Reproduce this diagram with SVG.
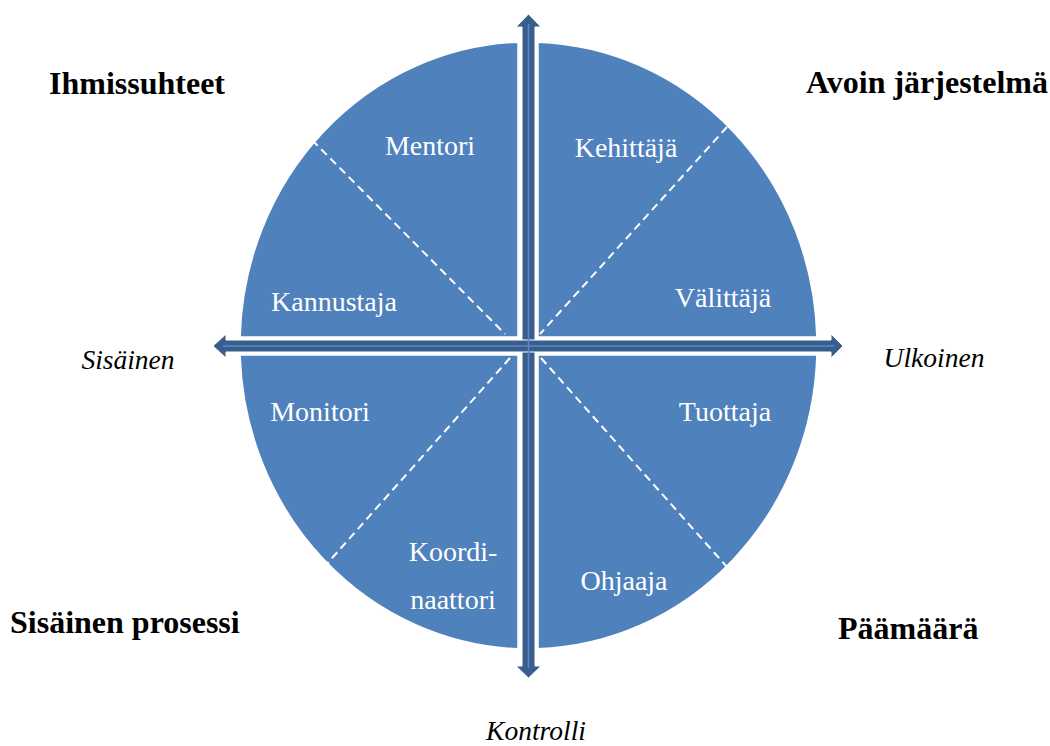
<svg xmlns="http://www.w3.org/2000/svg" width="1050" height="746" viewBox="0 0 1050 746">
<style>
.q{fill:#4F81BD;stroke:#ffffff;stroke-width:1.5}
.d{stroke:#ffffff;stroke-width:2;stroke-dasharray:8 5;fill:none}
.in{font-family:"Liberation Serif","Times New Roman",serif;font-size:28px;fill:#ffffff;text-anchor:middle}
.bold{font-family:"Liberation Serif","Times New Roman",serif;font-size:32px;font-weight:bold;fill:#000000}
.it{font-family:"Liberation Serif","Times New Roman",serif;font-size:27.5px;font-style:italic;fill:#000000;text-anchor:middle}
.arr{fill:#395E8E;stroke:#ffffff;stroke-width:1}
.cl{stroke:#5A88C2;stroke-width:1.5;fill:none}
</style>
<rect width="1050" height="746" fill="#ffffff"/>
<g id="q-mentori-kannustaja">
<path class="q" d="M518,337 L240.1,337 A288.5,303.5 0 0 1 518,42.2 Z"/>
<line class="d" x1="312" y1="140" x2="505" y2="334"/>
<text class="in" x="430" y="155">Mentori</text>
<text class="in" x="334" y="311">Kannustaja</text>
</g>
<g id="q-kehittaja-valittaja">
<path class="q" d="M538,337 L538,42.2 A288.5,303.5 0 0 1 816.9,337 Z"/>
<line class="d" x1="727" y1="127" x2="540" y2="334"/>
<text class="in" x="626" y="157">Kehittäjä</text>
<text class="in" x="723" y="307">Välittäjä</text>
</g>
<g id="q-monitori-koordinaattori">
<path class="q" d="M518,355 L518,648.8 A288.5,303.5 0 0 1 240.1,355 Z"/>
<line class="d" x1="510" y1="358" x2="325" y2="566"/>
<text class="in" x="320" y="421">Monitori</text>
<text class="in" x="453" y="561">Koordi-</text>
<text class="in" x="453" y="609">naattori</text>
</g>
<g id="q-tuottaja-ohjaaja">
<path class="q" d="M538,355 L816.9,355 A288.5,303.5 0 0 1 538,648.8 Z"/>
<line class="d" x1="541" y1="358" x2="727" y2="567"/>
<text class="in" x="725" y="421">Tuottaja</text>
<text class="in" x="624" y="590">Ohjaaja</text>
</g>
<g id="connectors">
<path class="arr" d="M528.5,14 L541,27 L535,27 L535,666 L541,666 L528.5,678 L516,666 L522,666 L522,27 L516,27 Z"/>
<path class="arr" d="M213,346 L226,334 L226,340 L831,340 L831,334 L843,346 L831,358 L831,352 L226,352 L226,358 Z"/>
<line class="cl" x1="528.5" y1="24" x2="528.5" y2="668"/>
<line class="cl" x1="223" y1="346" x2="834" y2="346"/>
</g>
<g id="labels">
<text class="bold" x="49" y="94">Ihmissuhteet</text>
<text class="bold" x="806" y="93">Avoin järjestelmä</text>
<text class="bold" x="10" y="633">Sisäinen prosessi</text>
<text class="bold" x="838" y="639">Päämäärä</text>
<text class="it" x="128" y="369">Sisäinen</text>
<text class="it" x="934" y="367">Ulkoinen</text>
<text class="it" x="536" y="740">Kontrolli</text>
</g>
</svg>
